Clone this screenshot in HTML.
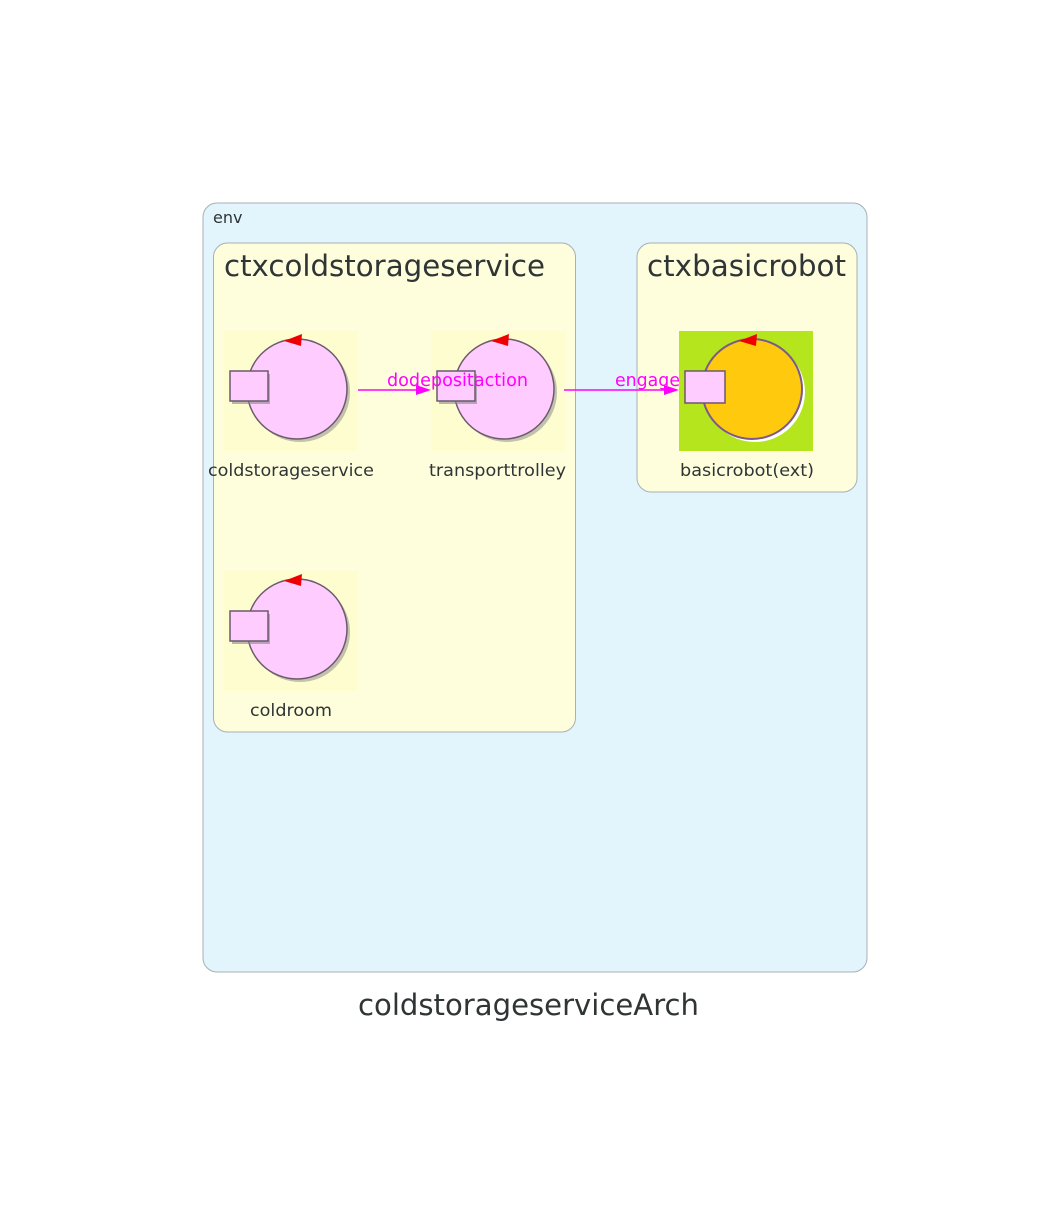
<!DOCTYPE html>
<html><head><style>body{margin:0;background:#fff}</style></head><body>
<svg width="1059" height="1220" xmlns="http://www.w3.org/2000/svg" font-family="'DejaVu Sans','Liberation Sans',sans-serif">
<defs>
<g id="ic">
<rect x="0" y="0" width="134" height="120" fill="#fdfdd0"/>
<circle cx="76" cy="61" r="50" fill="#888" opacity="0.5"/>
<circle cx="73" cy="58" r="50" fill="#ffccff" stroke="#6b5a6b" stroke-width="1.5"/>
<rect x="8" y="43" width="38" height="30" fill="#888" opacity="0.6"/>
<rect x="6" y="40" width="38" height="30" fill="#ffccff" stroke="#6b5a6b" stroke-width="1.5"/>
<polygon points="60,10 78,3 77,15" fill="#ee0000"/>
</g>
</defs>
<rect x="203" y="203" width="664" height="769" rx="14" fill="#e2f4fc" stroke="#a8b0b4"/>
<text x="213" y="223" font-size="16" fill="#2f3535">env</text>
<rect x="213.5" y="243" width="362" height="489" rx="14" fill="#fefedd" stroke="#a8b0b4"/>
<text x="224" y="276" font-size="29" fill="#2f3535" textLength="321" lengthAdjust="spacingAndGlyphs">ctxcoldstorageservice</text>
<rect x="637" y="243" width="220" height="249" rx="14" fill="#fefedd" stroke="#a8b0b4"/>
<text x="647" y="276" font-size="29" fill="#2f3535" textLength="199" lengthAdjust="spacingAndGlyphs">ctxbasicrobot</text>
<use href="#ic" x="224" y="331"/>
<use href="#ic" x="431" y="331"/>
<use href="#ic" x="224" y="571"/>
<g transform="translate(679,331)">
<rect width="134" height="120" fill="#b5e51d"/>
<circle cx="76" cy="61" r="50" fill="#fff"/>
<circle cx="73" cy="58" r="50" fill="#ffc90e" stroke="#7a5a8a" stroke-width="2"/>
<rect x="6" y="40" width="40" height="32" fill="#ffccff" stroke="#6b5a6b" stroke-width="1.5"/>
<polygon points="60,10 78,3 77,15" fill="#ee0000"/>
</g>
<g font-size="17" fill="#2f3535">
<text x="208" y="476" textLength="166" lengthAdjust="spacingAndGlyphs">coldstorageservice</text>
<text x="429" y="476" textLength="137" lengthAdjust="spacingAndGlyphs">transporttrolley</text>
<text x="250" y="716" textLength="82" lengthAdjust="spacingAndGlyphs">coldroom</text>
<text x="680" y="476" textLength="134" lengthAdjust="spacingAndGlyphs">basicrobot(ext)</text>
</g>
<g stroke="#ff00ff" stroke-width="1.5" fill="#ff00ff">
<line x1="358" y1="390" x2="418" y2="390"/>
<polygon points="416,385 431,390 416,395" stroke="none"/>
<line x1="564" y1="390" x2="666" y2="390"/>
<polygon points="664,385 679,390 664,395" stroke="none"/>
</g>
<g font-size="17.5" fill="#ff00ff">
<text x="387" y="386" textLength="141" lengthAdjust="spacingAndGlyphs">dodepositaction</text>
<text x="615" y="386" textLength="65" lengthAdjust="spacingAndGlyphs">engage</text>
</g>
<text x="358" y="1015" font-size="29" fill="#2f3535" textLength="341" lengthAdjust="spacingAndGlyphs">coldstorageserviceArch</text>
</svg>
</body></html>
